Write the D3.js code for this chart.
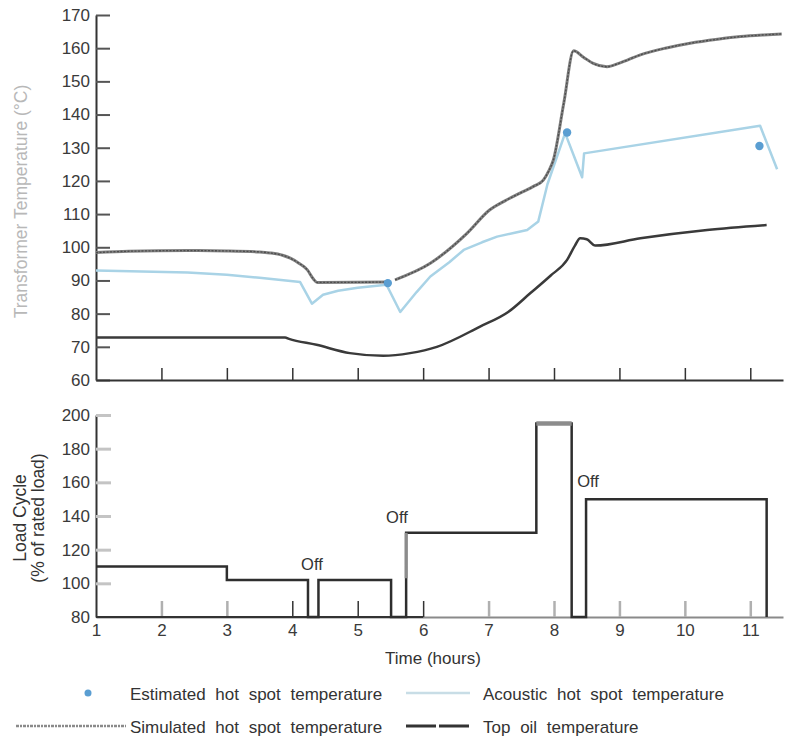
<!DOCTYPE html>
<html lang="en">
<head>
  <meta charset="UTF-8">
  <title>Transformer temperature and load cycle</title>
  <script src="https://d3js.org/d3.v7.min.js"></script>
  <style>
    body { margin: 0; background: #fff; }
    text { font-family: "Liberation Sans", Arial, sans-serif; fill: #333; }
    .tick text { font-size: 17px; fill: #3a3a3a; }
  </style>
</head>
<body>
  <svg width="791" height="738"></svg>

  <script>
    // Simulated hot spot temperature (hours, °C); NaN marks the short break after 5.5 h
    const simHours = [1, 1.5, 2.4, 3, 3.5, 3.66, 3.85, 3.97, 4.1, 4.23, 4.32, 4.38, 5.46, 5.5, 5.57, 6.11, 6.67, 7.02, 7.25, 7.48, 7.7, 7.84, 7.92, 7.99, 8.15, 8.3, 8.45, 8.6, 8.81, 9, 9.32, 9.7, 10.08, 10.5, 10.85, 11.2, 11.48];
    const simTemp  = [98.4, 98.8, 99, 98.9, 98.6, 98.3, 97.6, 96.7, 95.2, 93.2, 90.5, 89.4, 89.5, NaN, 90.2, 95.2, 104.2, 111.3, 114, 116.3, 118.5, 120.3, 123, 126.3, 143.5, 159.2, 157.3, 155.4, 154.4, 155.5, 158, 160, 161.5, 162.7, 163.5, 164, 164.3];

    // Acoustic hot spot temperature
    const acHours = [1, 2.4, 3, 3.5, 4.12, 4.3, 4.47, 4.7, 5, 5.44, 5.65, 5.9, 6.11, 6.4, 6.62, 6.9, 7.13, 7.4, 7.59, 7.76, 7.9, 8.17, 8.43, 8.46, 11.15, 11.41];
    const acTemp  = [93, 92.4, 91.7, 90.8, 89.5, 83, 85.7, 86.9, 87.8, 88.7, 80.5, 86.5, 91.2, 95.5, 99.2, 101.5, 103.2, 104.4, 105.2, 107.8, 119, 134.4, 121.1, 128.3, 136.6, 123.5];

    // Top oil temperature
    const oilHours = [1, 3.89, 3.95, 4.37, 4.88, 5.39, 5.8, 6.21, 6.87, 7.3, 7.64, 7.95, 8.2, 8.32, 8.4, 8.5, 8.63, 9.32, 10.34, 11.25];
    const oilTemp  = [72.8, 72.8, 72.4, 70.6, 68.1, 67.3, 68.1, 70, 76.1, 80.5, 86.2, 91.5, 96.2, 100.5, 102.7, 102.4, 100.5, 102.7, 105.2, 106.7];

    // Estimated hot spot temperature points
    const estHours = [5.46, 8.2, 11.14];
    const estTemp  = [89.2, 134.6, 130.5];

    // Load cycle steps (% of rated load, each level holds until the next start)
    const loadStart = [1, 3, 4.24, 4.4, 5.51, 5.74, 7.73, 8.27, 8.49, 11.25];
    const loadLevel = [110, 102, 80, 102, 80, 130, 195, 80, 150, 80];

    // "Off" annotations
    const offHours = [4.3, 5.6, 8.52];
    const offLoad  = [108, 136, 157];

    const tempTicks = d3.range(60, 171, 10);
    const loadTicks = d3.range(80, 201, 20);
    const hourTicks = d3.range(1, 12);

    const legendLabels = ["Estimated hot spot temperature", "Acoustic hot spot temperature",
                          "Simulated hot spot temperature", "Top oil temperature"];

    const svg = d3.select("svg");

    const x = d3.scaleLinear().domain([1, 11.5]).range([96, 783]);
    const yT = d3.scaleLinear().domain([60, 170]).range([380, 15]);
    const yL = d3.scaleLinear().domain([80, 200]).range([617, 415]);

    const zip = (a, b) => a.map((v, i) => [v, b[i]]);

    // ---- top panel axes
    const gTopY = svg.append("g")
      .attr("transform", `translate(${x(1)},0)`)
      .call(d3.axisLeft(yT).tickValues(tempTicks).tickSizeInner(-14).tickSizeOuter(0).tickPadding(6));
    gTopY.select(".domain").attr("stroke", "#333").attr("stroke-width", 2);
    gTopY.selectAll(".tick line").attr("stroke", "#555").attr("stroke-width", 2);

    const gTopX = svg.append("g")
      .attr("transform", `translate(0,${yT(60)})`)
      .call(d3.axisBottom(x).tickValues(hourTicks.slice(1)).tickSizeInner(-12).tickSizeOuter(0).tickFormat(""));
    gTopX.select(".domain").attr("stroke", "#333").attr("stroke-width", 2);
    gTopX.selectAll(".tick line").attr("stroke", "#333").attr("stroke-width", 1.5);

    svg.append("text")
      .attr("transform", `translate(27,${(yT(60) + yT(170)) / 2 + 4}) rotate(-90)`)
      .attr("text-anchor", "middle")
      .style("font-size", "17.5px")
      .style("fill", "#b8b8b8")
      .text("Transformer Temperature (°C)");

    // ---- top panel curves
    const lineT = d3.line().defined(d => !isNaN(d[1])).x(d => x(d[0])).y(d => yT(d[1]));

    svg.append("path")
      .attr("d", lineT.curve(d3.curveMonotoneX)(zip(oilHours, oilTemp)))
      .attr("fill", "none").attr("stroke", "#3a3a3a").attr("stroke-width", 2.5);

    svg.append("path")
      .attr("d", lineT.curve(d3.curveLinear)(zip(acHours, acTemp)))
      .attr("fill", "none").attr("stroke", "#a9d3e6").attr("stroke-width", 2.5)
      .attr("stroke-linejoin", "round");

    const simD = lineT.curve(d3.curveMonotoneX)(zip(simHours, simTemp));
    svg.append("path").attr("d", simD)
      .attr("fill", "none").attr("stroke", "#808080").attr("stroke-width", 3);
    svg.append("path").attr("d", simD)
      .attr("fill", "none").attr("stroke", "#4d4d4d").attr("stroke-width", 1.3)
      .attr("stroke-dasharray", "2,1.5");

    svg.selectAll(".est")
      .data(zip(estHours, estTemp))
      .join("circle")
      .attr("class", "est")
      .attr("cx", d => x(d[0])).attr("cy", d => yT(d[1]))
      .attr("r", 4.2).attr("fill", "#5a9ed2");

    // ---- bottom panel axes
    const gBotY = svg.append("g")
      .attr("transform", `translate(${x(1)},0)`)
      .call(d3.axisLeft(yL).tickValues(loadTicks).tickSizeInner(-15).tickSizeOuter(0).tickPadding(6));
    gBotY.select(".domain").attr("stroke", "#333").attr("stroke-width", 2);
    gBotY.selectAll(".tick line").attr("stroke", "#c4c4c4").attr("stroke-width", 3);
    gBotY.selectAll(".tick").filter(d => d === 80).select("line").remove();

    const gBotX = svg.append("g")
      .attr("transform", `translate(0,${yL(80)})`)
      .call(d3.axisBottom(x).tickValues(hourTicks).tickSizeInner(-16).tickSizeOuter(0).tickPadding(7));
    gBotX.select(".domain").attr("stroke", "#8a8a8a").attr("stroke-width", 2);
    gBotX.selectAll(".tick line")
      .attr("stroke", d => (d >= 4 && d <= 6) ? "#333" : "#b0b0b0")
      .attr("stroke-width", d => (d >= 4 && d <= 6) ? 1.5 : 2.5);
    gBotX.selectAll(".tick").filter(d => d === 1).select("line").remove();

    // darker baseline from the axis to hour 6
    svg.append("line")
      .attr("x1", x(1)).attr("x2", x(6))
      .attr("y1", yL(80)).attr("y2", yL(80))
      .attr("stroke", "#333").attr("stroke-width", 2);

    svg.append("text")
      .attr("x", x(6.15)).attr("y", 664)
      .attr("text-anchor", "middle")
      .style("font-size", "17px")
      .text("Time (hours)");

    const yLab = svg.append("text")
      .attr("transform", `translate(0,${(yL(80) + yL(200)) / 2 + 2}) rotate(-90)`)
      .attr("text-anchor", "middle")
      .style("font-size", "17.5px");
    yLab.append("tspan").attr("x", 0).attr("y", 26).text("Load Cycle");
    yLab.append("tspan").attr("x", 0).attr("y", 44).text("(% of rated load)");

    // ---- load cycle steps
    const loadPts = zip(loadStart, loadLevel);
    svg.append("path")
      .attr("d", d3.line().x(d => x(d[0])).y(d => yL(d[1])).curve(d3.curveStepAfter)(loadPts))
      .attr("fill", "none").attr("stroke", "#2e2e2e").attr("stroke-width", 2.5);

    // gray highlight on the 195 % plateau
    const peak = loadLevel.indexOf(d3.max(loadLevel));
    svg.append("line")
      .attr("x1", x(loadStart[peak])).attr("x2", x(loadStart[peak + 1]))
      .attr("y1", yL(loadLevel[peak])).attr("y2", yL(loadLevel[peak]))
      .attr("stroke", "#8c8c8c").attr("stroke-width", 4.5);

    // gray section of the rise back to 130 %
    const rise = loadLevel.indexOf(130);
    svg.append("line")
      .attr("x1", x(loadStart[rise])).attr("x2", x(loadStart[rise]))
      .attr("y1", yL(103)).attr("y2", yL(loadLevel[rise]))
      .attr("stroke", "#8c8c8c").attr("stroke-width", 3);

    svg.selectAll(".off")
      .data(zip(offHours, offLoad))
      .join("text")
      .attr("class", "off")
      .attr("x", d => x(d[0])).attr("y", d => yL(d[1]))
      .attr("text-anchor", "middle")
      .style("font-size", "16.5px")
      .text("Off");

    // ---- legend
    const leg = svg.append("g");
    const row1 = 694, row2 = 727, col1 = 130, col2 = 483;

    leg.append("circle").attr("cx", 88).attr("cy", row1 - 1).attr("r", 3.5).attr("fill", "#5a9ed2");
    leg.append("line").attr("x1", 406).attr("x2", 470).attr("y1", row1 - 1).attr("y2", row1 - 1)
      .attr("stroke", "#c8dde6").attr("stroke-width", 2.5);
    leg.append("line").attr("x1", 16).attr("x2", 126).attr("y1", row2 - 1).attr("y2", row2 - 1)
      .attr("stroke", "#8a8a8a").attr("stroke-width", 2.5).attr("stroke-dasharray", "3,1,2,1");
    leg.append("line").attr("x1", 406).attr("x2", 470).attr("y1", row2 - 1).attr("y2", row2 - 1)
      .attr("stroke", "#333").attr("stroke-width", 3).attr("stroke-dasharray", "30,3");

    [[col1, row1], [col2, row1], [col1, row2], [col2, row2]].forEach((p, i) => {
      leg.append("text")
        .attr("x", p[0]).attr("y", p[1] + 6)
        .style("font-size", "17px")
        .style("word-spacing", "5px")
        .text(legendLabels[i]);
    });
  </script>
</body>
</html>
